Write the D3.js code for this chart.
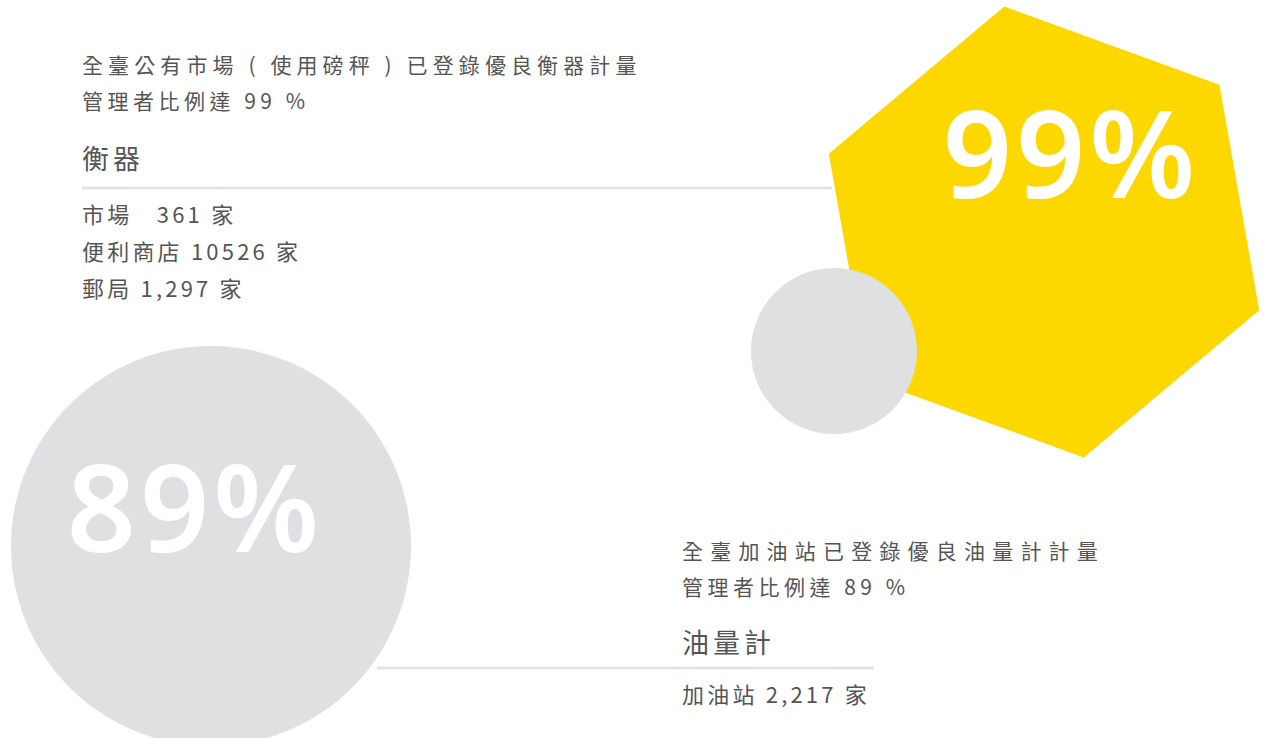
<!DOCTYPE html>
<html>
<head>
<meta charset="utf-8">
<script src="https://cdn.jsdelivr.net/npm/d3@7"></script>
<style>
	html, body { margin: 0; padding: 0; background: #fff; }
	svg { display: block; }
	.txt { font-family: "Noto Sans CJK TC", "Noto Sans", sans-serif; fill: #555; white-space: pre; }
	.big { font-family: "Noto Sans", sans-serif; font-weight: 600; fill: #fff; }
</style>
</head>
<body>
<svg width="1265" height="738"></svg>
<script>
// @ Data
const categories = ["衡器", "油量計"];
const percents = [99, 89];
const leadLines = [
	["全臺公有市場 ( 使用磅秤 ) 已登錄優良衡器計量", "管理者比例達 99 %"],
	["全臺加油站已登錄優良油量計計量", "管理者比例達 89 %"],
];
const outletNames = [["市場  ", "便利商店", "郵局"], ["加油站"]];
const outletCounts = [["361", "10526", "1,297"], ["2,217"]];

const svg = d3.select("svg");
const yellow = "#fdd800";
const grey = "#dfe0e2";
const ruleColor = "#e3e4e6";

// @ Block layout (x of text, baseline of first lead line, rule extent)
const blocks = [
	{ x: 82, y: 73, rule: [82, 832], ruleY: 188, leadSpacing: [5.1, 4.5] },
	{ x: 682, y: 559, rule: [377, 874], ruleY: 668, leadSpacing: [7.2, 4.5] },
];

// @ Rules (drawn first, shapes sit over them)
svg
	.selectAll("line.rule")
	.data(blocks)
	.enter()
	.append("line")
	.attr("class", "rule")
	.attr("x1", (d) => d.rule[0])
	.attr("x2", (d) => d.rule[1])
	.attr("y1", (d) => d.ruleY)
	.attr("y2", (d) => d.ruleY)
	.attr("stroke", ruleColor)
	.attr("stroke-width", 3);

// @ Hexagon for 99%
const hexC = [1044, 232];
const hexR = 229;
const hexPts = d3.range(6).map((i) => {
	const a = ((20 + i * 60) * Math.PI) / 180;
	return [hexC[0] + hexR * Math.cos(a), hexC[1] + hexR * Math.sin(a)];
});
svg
	.append("path")
	.attr("d", d3.line().curve(d3.curveLinearClosed)(hexPts))
	.attr("fill", yellow);

svg.append("circle").attr("cx", 834).attr("cy", 351).attr("r", 83).attr("fill", grey);

// @ Big circle for 89%
svg.append("circle").attr("cx", 211).attr("cy", 546).attr("r", 200).attr("fill", grey);

// @ Big numbers
const bigPos = [
	[1071, 198],
	[195, 552],
];
svg
	.selectAll("text.big")
	.data(percents)
	.enter()
	.append("text")
	.attr("class", "big")
	.attr("x", (d, i) => bigPos[i][0])
	.attr("y", (d, i) => bigPos[i][1])
	.attr("text-anchor", "middle")
	.style("font-size", "121px")
	.style("letter-spacing", "4px")
	.text((d) => `${d}%`);

// @ Text blocks
blocks.forEach((b, i) => {
	const g = svg.append("g").attr("transform", `translate(${b.x},0)`);

	g.selectAll("text.lead")
		.data(leadLines[i])
		.enter()
		.append("text")
		.attr("class", "txt lead")
		.attr("y", (d, j) => b.y + j * 36)
		.style("font-size", "21px")
		.style("letter-spacing", (d, j) => `${b.leadSpacing[j]}px`)
		.text((d) => d);

	g.append("text")
		.attr("class", "txt")
		.attr("y", b.y + (i === 0 ? 96 : 94))
		.style("font-size", "27px")
		.style("letter-spacing", "4px")
		.text(categories[i]);

	g.selectAll("text.outlet")
		.data(outletNames[i])
		.enter()
		.append("text")
		.attr("class", "txt outlet")
		.attr("y", (d, j) => b.ruleY + 35 + j * 37)
		.style("font-size", "22px")
		.style("letter-spacing", "3.2px")
		.text((d, j) => `${d} ${outletCounts[i][j]} 家`);
});
</script>
</body>
</html>
